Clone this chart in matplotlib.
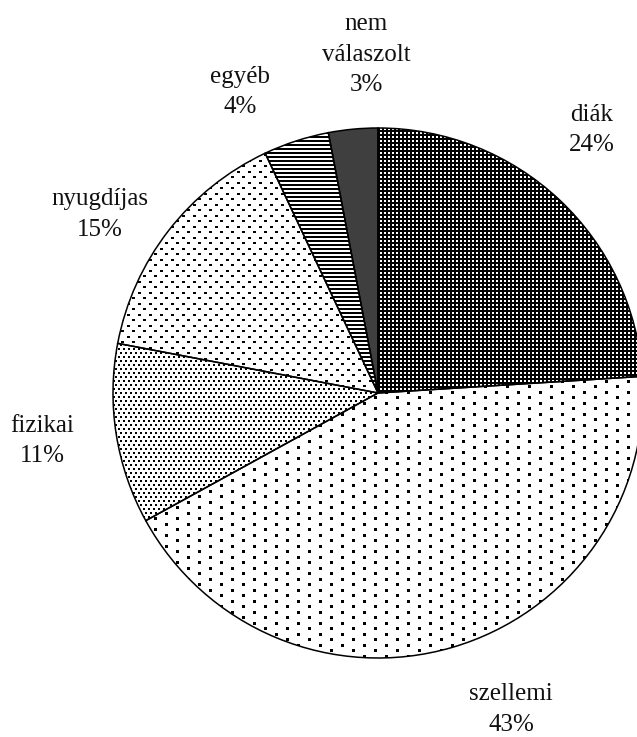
import numpy as np
import matplotlib
matplotlib.use("Agg")
import matplotlib.pyplot as plt

# Occupation breakdown of respondents (percent)
categories = ["diák", "szellemi", "fizikai", "nyugdíjas", "egyéb", "nem\nválaszolt"]
shares = [24, 43, 11, 15, 4, 3]
pct_labels = ["24%", "43%", "11%", "15%", "4%", "3%"]

# Canvas in pixel units
W, H = 637, 737
DPI = 100

# Pie geometry (pixel space, y measured from the top)
PIE_CX, PIE_CY, PIE_R = 378, 393, 265

# Label anchors: centre x and last-line baseline y (pixels from top)
label_pos = [(592, 151), (511, 731), (42, 462), (100, 236), (240, 113), (366, 91)]

plt.rcParams["font.family"] = ["Liberation Serif", "DejaVu Serif"]

fig = plt.figure(figsize=(W / DPI, H / DPI), dpi=DPI)
ax = fig.add_axes([0, 0, 1, 1])

wedges, _ = ax.pie(
    shares,
    center=(PIE_CX, H - PIE_CY),
    radius=PIE_R,
    startangle=90,
    counterclock=False,
    frame=True,
    wedgeprops=dict(facecolor="none", edgecolor="black", linewidth=1.1, zorder=3),
)
ax.set_xlim(0, W)
ax.set_ylim(0, H)
ax.set_aspect("equal")
ax.axis("off")

# Fill textures, built at one texel per output pixel
yy, xx = np.mgrid[0:H, 0:W]


def lattice(px, py, sx, sy, stagger=True):
    m = ((xx % px) < sx) & ((yy % py) < sy)
    if stagger:
        m |= (((xx + px // 2) % px) < sx) & (((yy + py // 2) % py) < sy)
    return m


def to_rgba(black_mask, dark=(0, 0, 0), light=(1, 1, 1)):
    img = np.ones((H, W, 4))
    img[..., :3] = light
    img[black_mask, :3] = dark
    return img


textures = [
    to_rgba(~lattice(4, 4, 2, 2, stagger=False)),        # diák: white specks on black
    to_rgba(lattice(22, 11, 3, 3)),                       # szellemi: sparse dots
    to_rgba(lattice(5, 8, 2, 2)),                         # fizikai: dense dots
    to_rgba(lattice(11, 11, 3, 2)),                       # nyugdíjas: medium dots
    to_rgba((yy % 4) < 2),                                # egyéb: horizontal stripes
    to_rgba(np.ones((H, W), bool), dark=(0.25, 0.25, 0.25)),  # nem válaszolt: solid grey
]

for wedge, tex in zip(wedges, textures):
    im = ax.imshow(tex, extent=(0, W, 0, H), origin="upper",
                   interpolation="nearest", zorder=1)
    im.set_clip_path(wedge)

ax.set_xlim(0, W)
ax.set_ylim(0, H)

for name, pct, (lx, ly) in zip(categories, pct_labels, label_pos):
    ax.text(lx, H - ly, f"{name}\n{pct}", ha="center", va="baseline",
            multialignment="center", fontsize=18, linespacing=1.5,
            color="#111111", zorder=5)

fig.savefig("out.png", dpi=DPI, facecolor="white")
